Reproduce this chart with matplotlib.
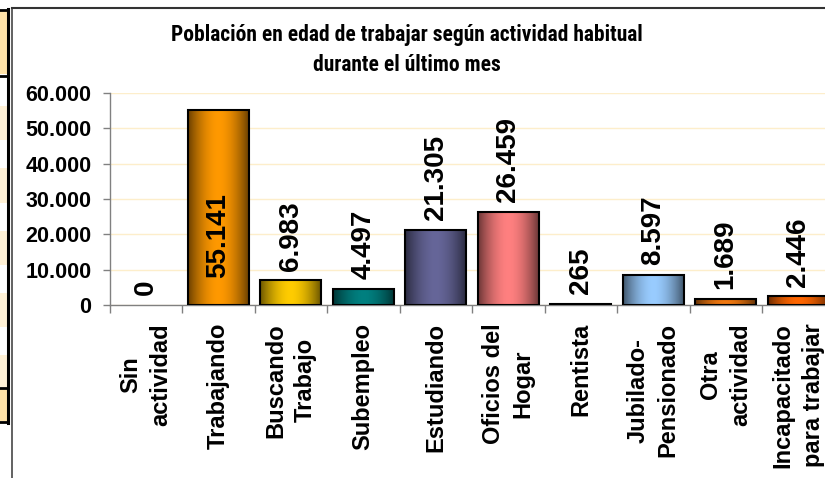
import matplotlib
matplotlib.use('Agg')
import matplotlib.pyplot as plt
import numpy as np
from matplotlib.patches import Rectangle
from matplotlib.lines import Line2D
from matplotlib.colors import to_rgb

categories = ["Sin\nactividad", "Trabajando", "Buscando\nTrabajo", "Subempleo",
              "Estudiando", "Oficios del\nHogar", "Rentista", "Jubilado-\nPensionado",
              "Otra\nactividad", "Incapacitado\npara trabajar"]
values = [0, 55141, 6983, 4497, 21305, 26459, 265, 8597, 1689, 2446]
colors = ["#FF9900", "#FF9900", "#FFCC00", "#008080", "#666699", "#FF8080",
          "#333333", "#99CCFF", "#F07810", "#FF6600"]
title = "Población en edad de trabajar según actividad habitual\ndurante el último mes"
yticks = [0, 10000, 20000, 30000, 40000, 50000, 60000]
ytick_labels = ["0", "10.000", "20.000", "30.000", "40.000", "50.000", "60.000"]

plt.rcParams['font.family'] = ['Liberation Sans', 'DejaVu Sans']
plt.rcParams['font.weight'] = 'bold'

W, H = 825, 478
fig = plt.figure(figsize=(W / 100, H / 100), dpi=100)
fig.patch.set_facecolor('white')


def fx(px):
    return px / W


def fy(py):
    return 1 - py / H


# left table fragment
def frect(x0, y0, x1, y1, color):
    fig.add_artist(Rectangle((fx(x0), fy(y1)), fx(x1) - fx(x0), fy(y0) - fy(y1),
                             transform=fig.transFigure, facecolor=color, edgecolor='none'))


frect(0, 10, 7, 74, '#FFE2A8')
for y0, y1 in [(106, 140), (168, 203), (231, 265), (293, 327), (355, 387)]:
    frect(0, y0, 7, y1, '#FFF1D6')
frect(0, 389, 7, 421, '#FFE2A8')
for yy in [9.5, 75.5, 388, 422]:
    fig.add_artist(Line2D([0, fx(8)], [fy(yy), fy(yy)], transform=fig.transFigure,
                          color='black', lw=2))
fig.add_artist(Line2D([fx(7.5), fx(7.5)], [fy(9), fy(423)], transform=fig.transFigure,
                      color='black', lw=2.2))

# chart frame
fig.add_artist(Line2D([fx(11.5), fx(11.5)], [0, fy(8)], transform=fig.transFigure,
                      color='#555555', lw=1.3))
fig.add_artist(Line2D([fx(11.5), 1], [fy(8), fy(8)], transform=fig.transFigure,
                      color='#333333', lw=1.5))

ax = fig.add_axes([fx(109.5), fy(305), (834.5 - 109.5) / W, (305 - 93) / H])
ax.set_facecolor('none')
x = np.arange(len(values))
bars = ax.bar(x, values, width=0.84, facecolor='none', edgecolor='black',
              linewidth=1.5, zorder=3)

t = np.linspace(0, 1, 128)
w = 1 - np.abs(2 * t - 1) ** 1.8
for bar, c in zip(bars, colors):
    h = bar.get_height()
    if h <= 0:
        bar.set_linewidth(0)
        continue
    base = np.array(to_rgb(c))
    dark = base * 0.42
    img = dark[None, :] + (base - dark)[None, :] * w[:, None]
    x0 = bar.get_x()
    ax.imshow(img[None, :, :], extent=(x0, x0 + bar.get_width(), 0, h),
              aspect='auto', zorder=2, interpolation='bilinear')

ax.set_xlim(-0.5, len(values) - 0.5)
ax.set_ylim(0, 60000)

ax.set_yticks(yticks)
ax.set_yticklabels(ytick_labels, fontsize=15.5, fontweight='bold')
ax.yaxis.grid(True, color='#FDEECB', linewidth=1)
ax.set_axisbelow(True)
ax.tick_params(axis='y', length=5, width=1, color='#808080', pad=8)

ax.set_xticks(x)
ax.set_xticklabels(categories, rotation=90, ha='center', va='top',
                   multialignment='center', fontsize=17, fontweight='bold',
                   linespacing=1.38)
ax.tick_params(axis='x', which='major', length=0, pad=13)
ax.set_xticks(np.arange(len(values) + 1) - 0.5, minor=True)
ax.tick_params(axis='x', which='minor', length=6, width=1, color='#808080')

for s in ['top', 'right']:
    ax.spines[s].set_visible(False)
for s in ['left', 'bottom']:
    ax.spines[s].set_color('#808080')
    ax.spines[s].set_linewidth(1)

ymax = ax.get_ylim()[1]
for bar, v in zip(bars, values):
    label = f"{v:,}".replace(',', '.')
    cx = bar.get_x() + bar.get_width() / 2
    if v > 0.8 * ymax:
        ax.annotate(label, (cx, v), xytext=(0, -60), textcoords='offset points',
                    rotation=90, ha='center', va='top', fontsize=20,
                    fontweight='bold', zorder=5)
    else:
        ax.annotate(label, (cx, v), xytext=(0, 7), textcoords='offset points',
                    rotation=90, ha='center', va='bottom', fontsize=20,
                    fontweight='bold', zorder=5)

fig.text(fx(407), fy(24), title, ha='center', va='top', fontsize=15.5,
         family=['Roboto Condensed', 'Liberation Sans', 'DejaVu Sans'],
         fontweight='bold', linespacing=1.45)

fig.savefig('out.png', dpi=100, facecolor='white')
